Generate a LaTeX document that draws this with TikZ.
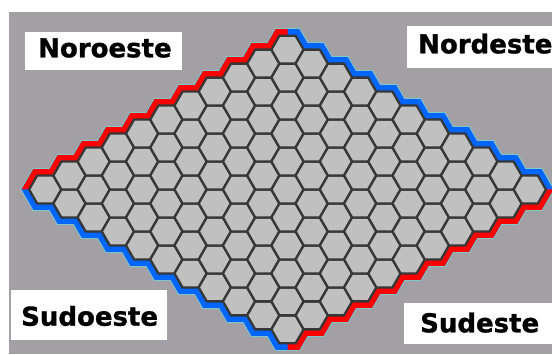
\documentclass[tikz,border=0pt]{standalone}
\usepackage{fontspec}
\setmainfont{DejaVu Sans}[BoldFeatures={FakeBold=1.2}]
\definecolor{bggray}{RGB}{162,160,165}
\definecolor{hexfill}{RGB}{192,192,192}
\definecolor{hexline}{RGB}{55,55,55}
\definecolor{hexred}{RGB}{255,0,0}
\definecolor{hexblue}{RGB}{0,102,255}
\definecolor{rimcyan}{RGB}{130,200,200}
\tikzset{
  hexcell/.style={fill=hexfill, draw=hexline, line width=2.3pt, line join=round},
  rim/.style={line width=13pt, line join=miter},
  rimedge/.style={line width=15pt, line join=miter, draw=rimcyan},
  labelbox/.style={fill=white, inner sep=0pt, draw=none},
  labeltext/.style={font=\fontsize{26}{30}\selectfont\bfseries, inner sep=0pt, anchor=base west},
}
\def\R{16.15}\def\PX{24.225}\def\PY{13.986}\def\LX{45.25}\def\LY{164.5}
\newcommand{\rimpath}{(\LX-\R,\LY)
  \foreach \i in {0,...,10}{ -- ({\LX+\PX*\i+\R*cos(120)},{\LY+\PY*\i+\R*sin(120)}) -- ({\LX+\PX*\i+\R*cos(60)},{\LY+\PY*\i+\R*sin(60)}) }
  -- ({\LX+\PX*10+\R},{\LY+\PY*10})
  \foreach \j in {1,...,10}{ -- ({\LX+\PX*(10+\j)+\R*cos(60)},{\LY+\PY*(10-\j)+\R*sin(60)}) -- ({\LX+\PX*(10+\j)+\R},{\LY+\PY*(10-\j)}) }
  \foreach \i in {10,9,...,0}{ -- ({\LX+\PX*(\i+10)+\R*cos(300)},{\LY+\PY*(\i-10)+\R*sin(300)}) -- ({\LX+\PX*(\i+10)+\R*cos(240)},{\LY+\PY*(\i-10)+\R*sin(240)}) }
  -- ({\LX+\PX*10-\R},{\LY-\PY*10})
  \foreach \j in {9,8,...,1}{ -- ({\LX+\PX*\j+\R*cos(240)},{\LY-\PY*\j+\R*sin(240)}) -- ({\LX+\PX*\j-\R},{\LY-\PY*\j}) }
  -- ({\LX+\R*cos(240)},{\LY+\R*sin(240)}) -- cycle}
\begin{document}
\begin{tikzpicture}[x=1pt,y=1pt]
\useasboundingbox (0,0) rectangle (552,354);
\fill[white] (0,0) rectangle (552,354);
\fill[bggray] (9,0) rectangle (552,342);
% rim
\draw[rimedge] \rimpath;
\draw[rim, draw=hexblue] \rimpath;
\begin{scope}
  \clip (0,\LY) rectangle (287.5,354) (287.5,0) rectangle (552,\LY);
  \draw[rim, draw=hexred] \rimpath;
\end{scope}
% cells
\foreach \i in {0,...,10}{\foreach \j in {0,...,10}{
  \draw[hexcell] ({\LX+\PX*(\i+\j)},{\LY+\PY*(\i-\j)}) +(0:\R) -- +(60:\R) -- +(120:\R) -- +(180:\R) -- +(240:\R) -- +(300:\R) -- cycle;
}}
% labels
\node[labelbox, minimum width=157pt, minimum height=38pt] (nwbox) at (103.5,303) {};
\node[labeltext] (nwtext) at (38,296.7) {Noroeste};
\node[labelbox, minimum width=145pt, minimum height=42pt] (nebox) at (479.5,307) {};
\node[labeltext] (netext) at (418,300.7) {Nordeste};
\node[labelbox, minimum width=156pt, minimum height=50pt] (swbox) at (89,39) {};
\node[labeltext] (swtext) at (21,28.3) {Sudoeste};
\node[labelbox, minimum width=148pt, minimum height=41pt] (sebox) at (478,30.5) {};
\node[labeltext] (setext) at (420,21.7) {Sudeste};
\end{tikzpicture}
\end{document}
